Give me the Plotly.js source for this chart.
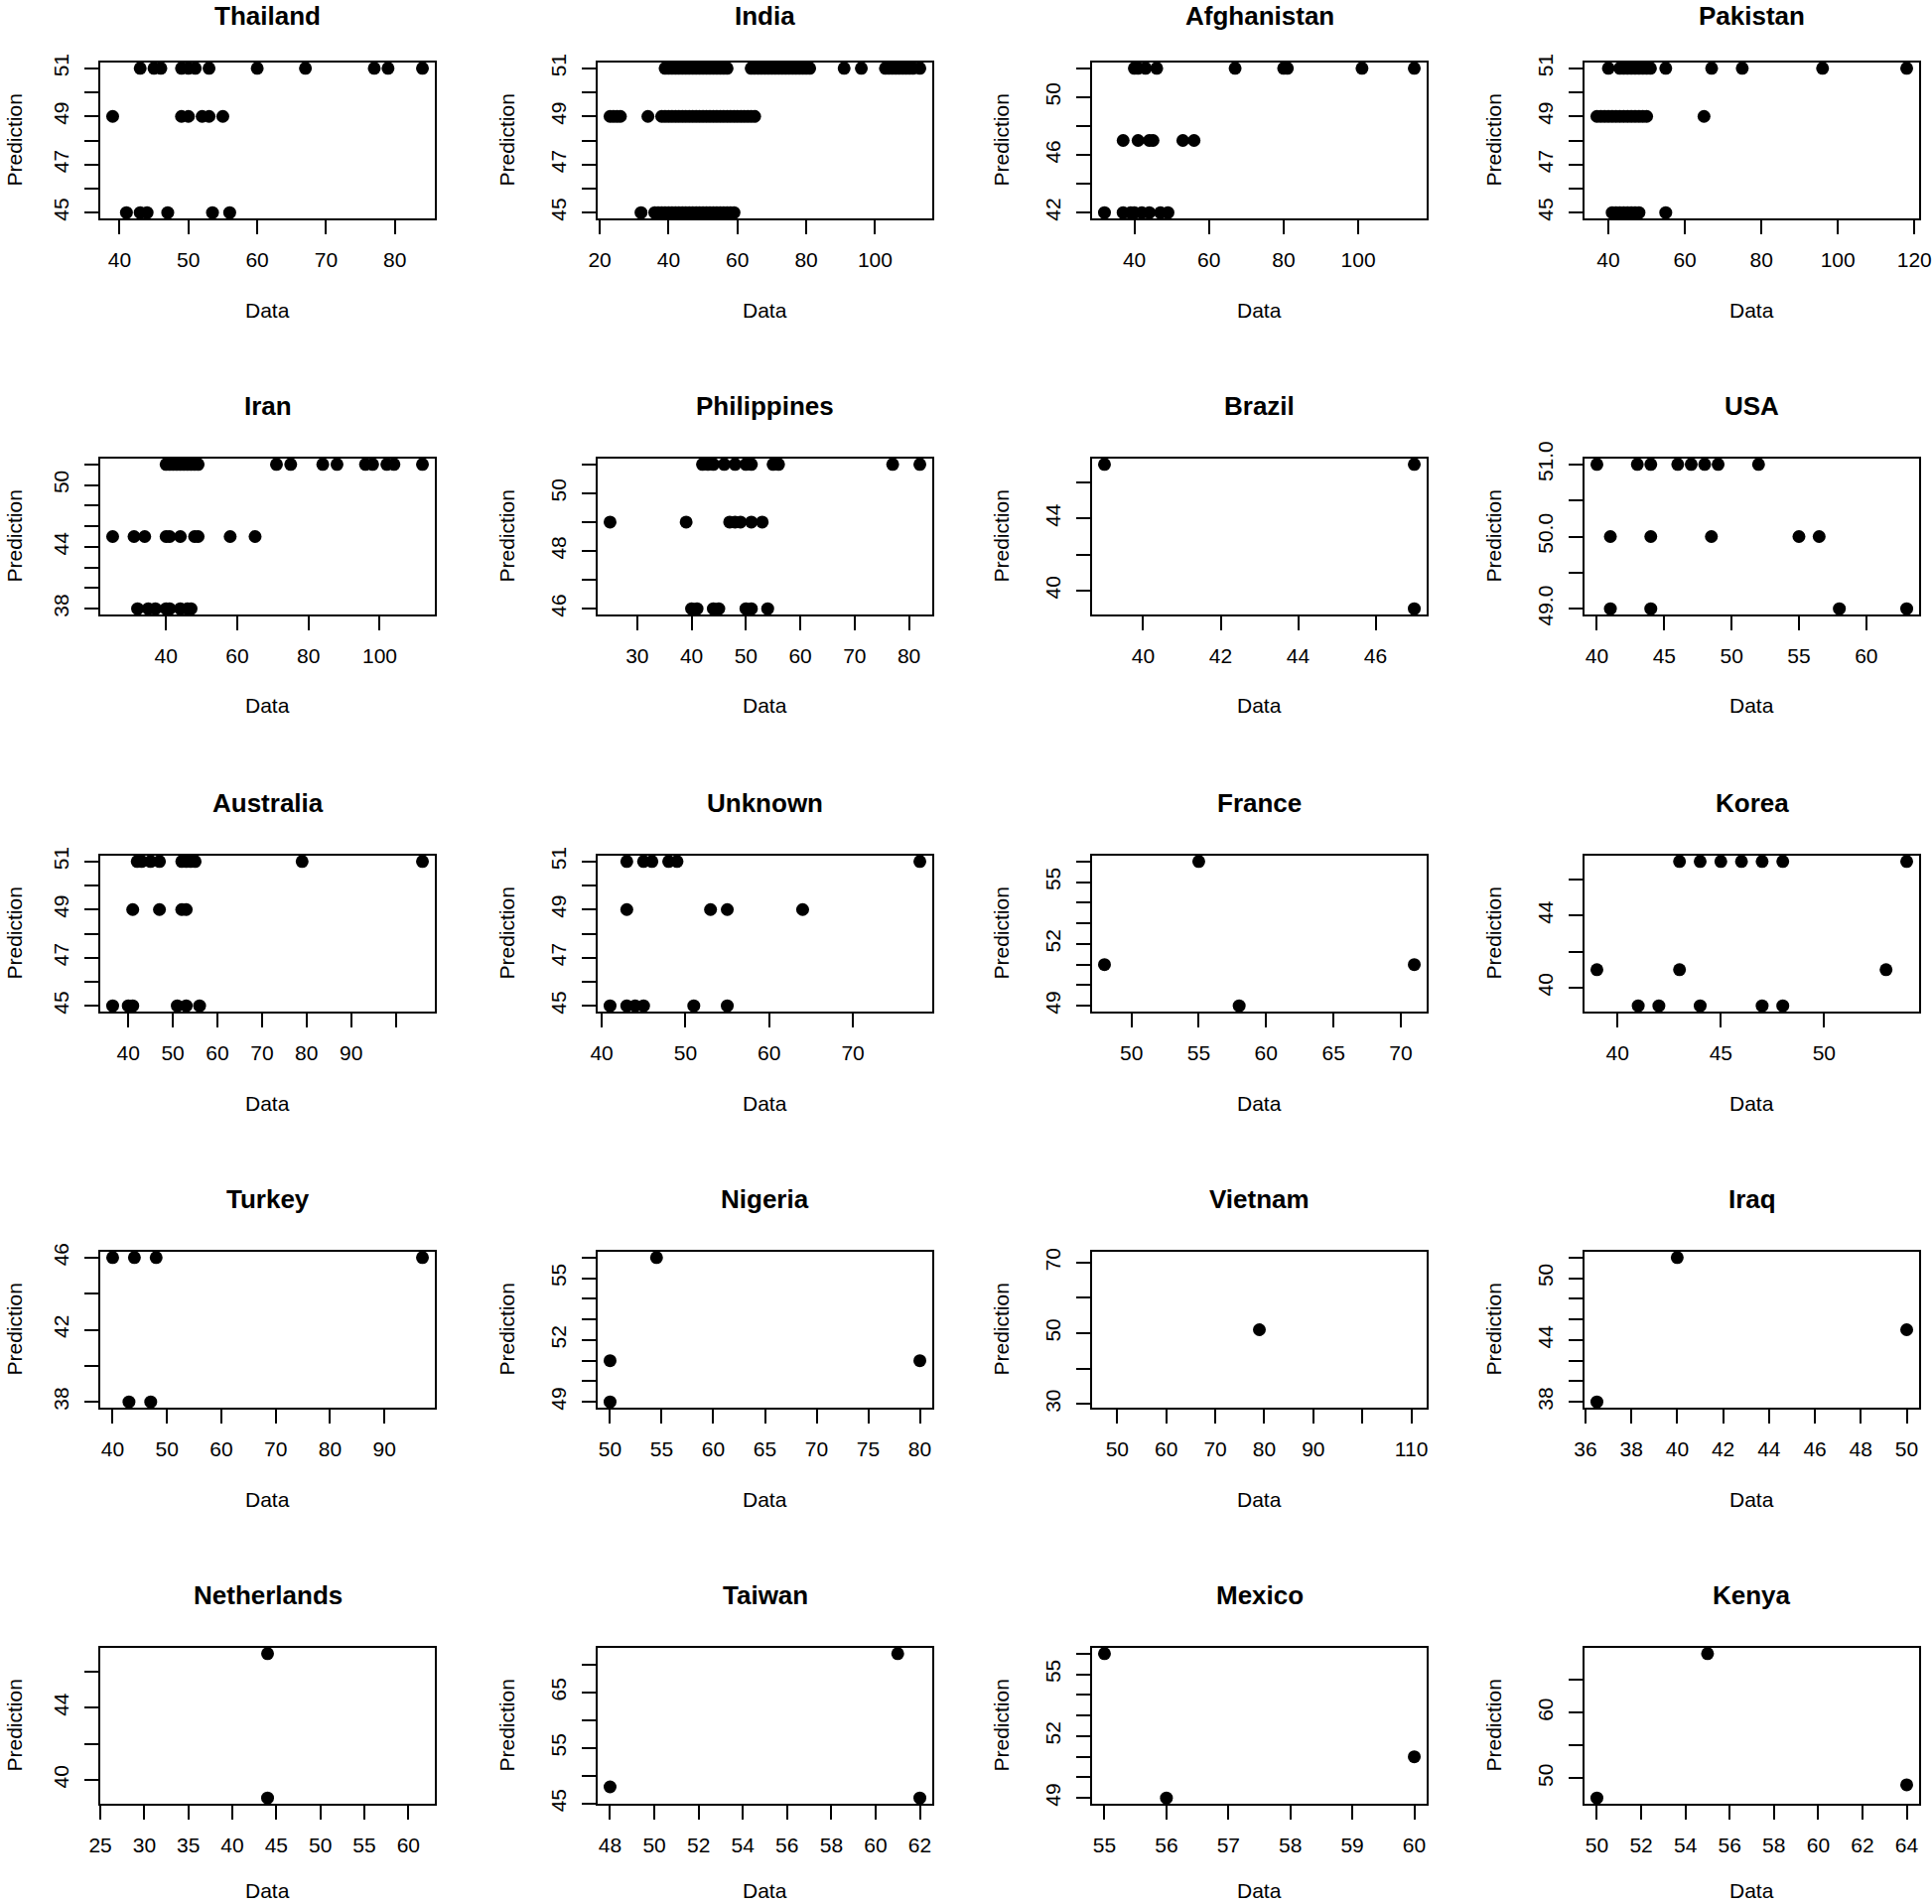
<!DOCTYPE html>
<html>
<head>
<meta charset="utf-8">
<script src="https://cdn.plot.ly/plotly-3.0.1.min.js"></script>
<style>
  body { margin: 0; background: white; }
  #plot { width: 1946px; height: 1918px; }
</style>
</head>
<body>
<div id="plot"></div>
<script>
// panel titles, row by row
const countries = ['Thailand', 'India', 'Afghanistan', 'Pakistan',
    'Iran', 'Philippines', 'Brazil', 'USA',
    'Australia', 'Unknown', 'France', 'Korea',
    'Turkey', 'Nigeria', 'Vietnam', 'Iraq',
    'Netherlands', 'Taiwan', 'Mexico', 'Kenya']

// Data (x) and Prediction (y)
const thailandX = [43, 45, 46, 49, 50, 51, 53, 60, 67, 77, 79, 84,
    39, 49, 50, 52, 53, 55,
    41, 43, 44, 47, 53.5, 56]
const thailandY = [51, 51, 51, 51, 51, 51, 51, 51, 51, 51, 51, 51,
    49, 49, 49, 49, 49, 49,
    45, 45, 45, 45, 45, 45]

const indiaX = [39, 40, 41, 42, 43, 44, 45, 46, 47, 48, 49, 50, 51, 52, 53, 54, 55, 56, 57,
    64, 65, 66, 67, 68, 69, 70, 71, 72, 73, 74, 75, 76, 77, 78, 79, 80, 81,
    91, 96, 103, 104, 105, 106, 107, 108, 109, 110, 111, 113,
    23, 24, 25, 26, 34, 38, 39, 40, 41, 42, 43, 44, 45, 46, 47, 48, 49, 50, 51,
    52, 53, 54, 55, 56, 57, 58, 59, 60, 61, 62, 63, 64, 65,
    32, 36, 37, 38, 39, 40, 41, 42, 43, 44, 45, 46, 47, 48, 49, 50, 51, 52, 53,
    54, 55, 56, 57, 58, 59]
const indiaY = [51, 51, 51, 51, 51, 51, 51, 51, 51, 51, 51, 51, 51, 51, 51, 51, 51, 51, 51,
    51, 51, 51, 51, 51, 51, 51, 51, 51, 51, 51, 51, 51, 51, 51, 51, 51, 51,
    51, 51, 51, 51, 51, 51, 51, 51, 51, 51, 51, 51,
    49, 49, 49, 49, 49, 49, 49, 49, 49, 49, 49, 49, 49, 49, 49, 49, 49, 49, 49,
    49, 49, 49, 49, 49, 49, 49, 49, 49, 49, 49, 49, 49, 49,
    45, 45, 45, 45, 45, 45, 45, 45, 45, 45, 45, 45, 45, 45, 45, 45, 45, 45, 45,
    45, 45, 45, 45, 45, 45]

const afghanistanX = [40, 41, 43, 46, 67, 80, 81, 101, 115,
    37, 41, 44, 45, 53, 56,
    32, 37, 39, 40, 42, 44, 47, 49]
const afghanistanY = [52, 52, 52, 52, 52, 52, 52, 52, 52,
    47, 47, 47, 47, 47, 47,
    42, 42, 42, 42, 42, 42, 42, 42]

const pakistanX = [40, 43, 44, 45, 46, 47, 48, 49, 50, 51, 55, 67, 75, 96, 118,
    37, 38, 39, 40, 41, 42, 43, 44, 45, 46, 47, 48, 49, 50, 65,
    41, 42, 43, 44, 45, 46, 47, 48, 55]
const pakistanY = [51, 51, 51, 51, 51, 51, 51, 51, 51, 51, 51, 51, 51, 51, 51,
    49, 49, 49, 49, 49, 49, 49, 49, 49, 49, 49, 49, 49, 49, 49,
    45, 45, 45, 45, 45, 45, 45, 45, 45]

const iranX = [40, 41, 42, 43, 44, 45, 46, 47, 48, 49, 71, 75, 84, 88, 96, 98, 102, 104, 112,
    25, 31, 34, 40, 41, 44, 48, 49, 58, 65,
    32, 35, 37, 40, 41, 44, 46, 47]
const iranY = [52, 52, 52, 52, 52, 52, 52, 52, 52, 52, 52, 52, 52, 52, 52, 52, 52, 52, 52,
    45, 45, 45, 45, 45, 45, 45, 45, 45, 45,
    38, 38, 38, 38, 38, 38, 38, 38]

const philippinesX = [42, 43, 44, 46, 48, 50, 51, 55, 56, 77, 82,
    25, 39, 47, 48, 49, 51, 53,
    40, 41, 44, 45, 50, 51, 54]
const philippinesY = [51, 51, 51, 51, 51, 51, 51, 51, 51, 51, 51,
    49, 49, 49, 49, 49, 49, 49,
    46, 46, 46, 46, 46, 46, 46]

const brazilX = [39, 47, 47]
const brazilY = [47, 47, 39]

const usaX = [40, 43, 44, 46, 47, 48, 49, 52,
    41, 44, 48.5, 55, 56.5,
    41, 44, 58, 63]
const usaY = [51, 51, 51, 51, 51, 51, 51, 51,
    50, 50, 50, 50, 50,
    49, 49, 49, 49]

const australiaX = [42, 43, 45, 47, 52, 53, 54, 55, 79, 106,
    41, 47, 52, 53,
    36.5, 40, 41, 51, 53, 56]
const australiaY = [51, 51, 51, 51, 51, 51, 51, 51, 51, 51,
    49, 49, 49, 49,
    45, 45, 45, 45, 45, 45]

const unknownX = [43, 45, 46, 48, 49, 78,
    43, 53, 55, 64,
    41, 43, 44, 45, 51, 55]
const unknownY = [51, 51, 51, 51, 51, 51,
    49, 49, 49, 49,
    45, 45, 45, 45, 45, 45]

const franceX = [48, 55, 58, 71]
const franceY = [51, 56, 49, 51]

const koreaX = [43, 44, 45, 46, 47, 48, 54,
    39, 43, 53,
    41, 42, 44, 47, 48]
const koreaY = [47, 47, 47, 47, 47, 47, 47,
    41, 41, 41,
    39, 39, 39, 39, 39]

const turkeyX = [40, 44, 48, 97, 43, 47]
const turkeyY = [46, 46, 46, 46, 38, 38]

const nigeriaX = [50, 54.5, 50, 80]
const nigeriaY = [51, 56, 49, 51]

const vietnamX = [79]
const vietnamY = [51]

const iraqX = [36.5, 40, 50]
const iraqY = [38, 52, 45]

const netherlandsX = [44, 44]
const netherlandsY = [47, 39]

const taiwanX = [48, 61, 62]
const taiwanY = [48, 72, 46]

const mexicoX = [55, 56, 60]
const mexicoY = [56, 49, 51]

const kenyaX = [50, 55, 64]
const kenyaY = [47, 69, 49]

const panelX = [thailandX, indiaX, afghanistanX, pakistanX, iranX, philippinesX, brazilX, usaX,
    australiaX, unknownX, franceX, koreaX, turkeyX, nigeriaX, vietnamX, iraqX,
    netherlandsX, taiwanX, mexicoX, kenyaX]
const panelY = [thailandY, indiaY, afghanistanY, pakistanY, iranY, philippinesY, brazilY, usaY,
    australiaY, unknownY, franceY, koreaY, turkeyY, nigeriaY, vietnamY, iraqY,
    netherlandsY, taiwanY, mexicoY, kenyaY]

// x ticks per panel (R drops labels that would overlap)
const xTickVals = [
    [40, 50, 60, 70, 80], [20, 40, 60, 80, 100], [40, 60, 80, 100], [40, 60, 80, 100, 120],
    [40, 60, 80, 100], [30, 40, 50, 60, 70, 80], [40, 42, 44, 46], [40, 45, 50, 55, 60],
    [40, 50, 60, 70, 80, 90, 100], [40, 50, 60, 70], [50, 55, 60, 65, 70], [40, 45, 50],
    [40, 50, 60, 70, 80, 90], [50, 55, 60, 65, 70, 75, 80], [50, 60, 70, 80, 90, 100, 110],
    [36, 38, 40, 42, 44, 46, 48, 50],
    [25, 30, 35, 40, 45, 50, 55, 60], [48, 50, 52, 54, 56, 58, 60, 62], [55, 56, 57, 58, 59, 60],
    [50, 52, 54, 56, 58, 60, 62, 64]]
const xUnlabelled = [[], [], [], [], [], [], [], [], [100], [], [], [], [], [], [100], [], [], [], [], []]

// y ticks and their labels per panel
const yTickVals = [
    [45, 46, 47, 48, 49, 50, 51], [45, 46, 47, 48, 49, 50, 51], [42, 44, 46, 48, 50, 52],
    [45, 46, 47, 48, 49, 50, 51],
    [38, 40, 42, 44, 46, 48, 50, 52], [46, 47, 48, 49, 50, 51], [40, 42, 44, 46],
    [49, 49.5, 50, 50.5, 51],
    [45, 46, 47, 48, 49, 50, 51], [45, 46, 47, 48, 49, 50, 51], [49, 50, 51, 52, 53, 54, 55, 56],
    [40, 42, 44, 46],
    [38, 40, 42, 44, 46], [49, 50, 51, 52, 53, 54, 55, 56], [30, 40, 50, 60, 70],
    [38, 40, 42, 44, 46, 48, 50, 52],
    [40, 42, 44, 46], [45, 50, 55, 60, 65, 70], [49, 50, 51, 52, 53, 54, 55, 56], [50, 55, 60, 65]]
const yTickText = [
    ['45', '', '47', '', '49', '', '51'], ['45', '', '47', '', '49', '', '51'],
    ['42', '', '46', '', '50', ''], ['45', '', '47', '', '49', '', '51'],
    ['38', '', '', '44', '', '', '50', ''], ['46', '', '48', '', '50', ''], ['40', '', '44', ''],
    ['49.0', '', '50.0', '', '51.0'],
    ['45', '', '47', '', '49', '', '51'], ['45', '', '47', '', '49', '', '51'],
    ['49', '', '', '52', '', '', '55', ''], ['40', '', '44', ''],
    ['38', '', '42', '', '46'], ['49', '', '', '52', '', '', '55', ''], ['30', '', '50', '', '70'],
    ['38', '', '', '44', '', '', '50', ''],
    ['40', '', '44', ''], ['45', '', '55', '', '65', ''], ['49', '', '', '52', '', '', '55', ''],
    ['50', '', '60', '']]

// page geometry (pixels)
const W = 1946, H = 1918
const colLeft = [101, 602, 1100, 1596]
const rowTop = [63, 462, 862, 1261, 1660]
const boxW = 337, boxH = 157

// R style axis range: data range plus 4% each side
function rRange(v) {
    let lo = Math.min(...v), hi = Math.max(...v)
    if (hi - lo < 1e-9) {
        const a = Math.abs(lo)
        lo -= 0.4 * a
        hi += 0.4 * a
    }
    const pad = 0.04 * (hi - lo)
    return [lo - pad, hi + pad]
}

const px = x => x / W
const py = y => 1 - y / H

const font = 'Liberation Sans, Arial, Helvetica, sans-serif'
const traces = []
const annotations = []
const layout = {
    width: W,
    height: H,
    margin: {l: 0, r: 0, t: 0, b: 0},
    paper_bgcolor: 'white',
    plot_bgcolor: 'white',
    showlegend: false,
    font: {family: font, color: 'black', size: 21},
}

for (let i = 0; i < countries.length; i++) {
    const r = Math.floor(i / 4), c = i % 4
    const left = colLeft[c], top = rowTop[r]
    const right = left + boxW, bottom = top + boxH
    const sfx = i === 0 ? '' : String(i + 1)

    traces.push({
        x: panelX[i],
        y: panelY[i],
        mode: 'markers',
        type: 'scatter',
        xaxis: 'x' + sfx,
        yaxis: 'y' + sfx,
        marker: {color: 'black', size: 13, symbol: 'circle'},
        hoverinfo: 'x+y',
    })

    const common = {
        showline: true, mirror: true, linewidth: 2, linecolor: 'black',
        showgrid: false, zeroline: false,
        ticks: 'outside', ticklen: 14, tickwidth: 2, tickcolor: 'black',
        tickfont: {family: font, size: 21, color: 'black'},
        tickmode: 'array', fixedrange: true,
        ticklabeloverflow: 'allow',
    }
    layout['xaxis' + sfx] = Object.assign({}, common, {
        domain: [px(left), px(right)],
        anchor: 'y' + sfx,
        range: rRange(panelX[i]),
        tickvals: xTickVals[i],
        ticktext: xTickVals[i].map(v => xUnlabelled[i].includes(v) ? '' : String(v)),
        ticklabelstandoff: 8,
    })
    layout['yaxis' + sfx] = Object.assign({}, common, {
        domain: [py(bottom), py(top)],
        anchor: 'x' + sfx,
        range: rRange(panelY[i]),
        tickvals: yTickVals[i],
        ticktext: yTickText[i],
        tickangle: -90,
        ticklabelstandoff: 8,
    })

    // title, x label, y label (kept just inside the page edges)
    annotations.push({
        text: countries[i], xref: 'paper', yref: 'paper',
        x: px((left + right) / 2), y: py(Math.max(top - 53, 16)),
        xanchor: 'center', yanchor: 'middle', showarrow: false,
        font: {family: font, size: 26, weight: 'bold', color: 'black'},
    })
    annotations.push({
        text: 'Data', xref: 'paper', yref: 'paper',
        x: px((left + right) / 2), y: py(Math.min(bottom + 92, H - 14)),
        xanchor: 'center', yanchor: 'middle', showarrow: false,
        font: {family: font, size: 21, color: 'black'},
    })
    annotations.push({
        text: 'Prediction', xref: 'paper', yref: 'paper',
        x: px(Math.max(left - 92, 14)), y: py((top + bottom) / 2),
        xanchor: 'center', yanchor: 'middle', showarrow: false, textangle: -90,
        font: {family: font, size: 21, color: 'black'},
    })
}
layout.annotations = annotations

Plotly.newPlot('plot', traces, layout, {displayModeBar: false, staticPlot: true})
</script>
</body>
</html>
